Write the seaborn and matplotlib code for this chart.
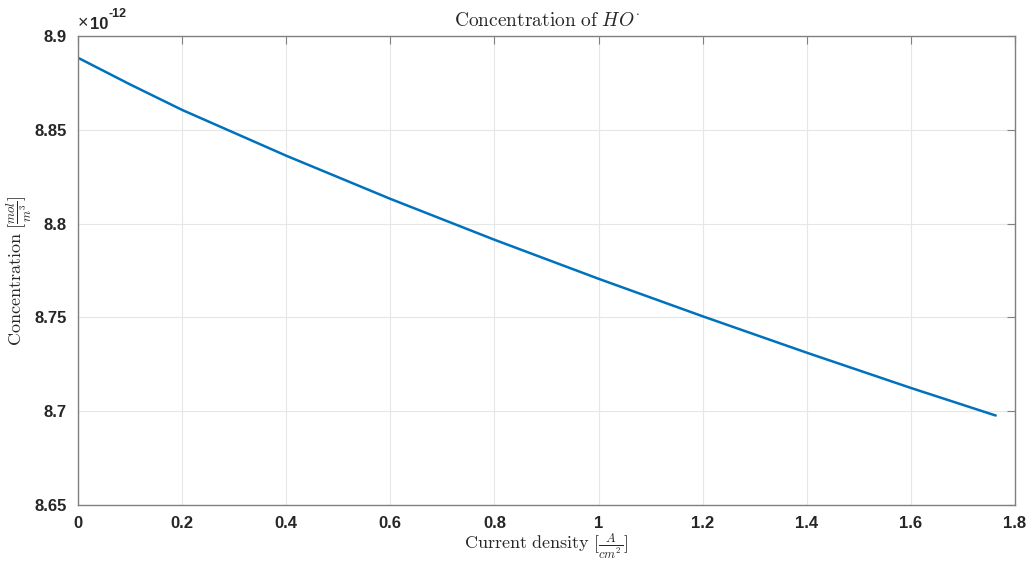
import pandas as pd
import matplotlib.pyplot as plt
import matplotlib.ticker as mticker
import seaborn as sns

# values (concentration in units of 1e-12 mol/m^3)
current_density = [0.0, 0.1, 0.2, 0.4, 0.6, 0.8, 1.0, 1.2, 1.4, 1.6, 1.763]
concentration = [8.8884, 8.8742, 8.8606, 8.8362, 8.8132, 8.7914, 8.7706,
                 8.7506, 8.7312, 8.7124, 8.6977]
y_ticks = [8.65, 8.7, 8.75, 8.8, 8.85, 8.9]
x_ticks = [0, 0.2, 0.4, 0.6, 0.8, 1, 1.2, 1.4, 1.6, 1.8]

df = pd.DataFrame({"J": current_density, "C": concentration})

sns.set_theme(style="whitegrid")
plt.rcParams["font.family"] = ["Liberation Sans", "DejaVu Sans"]
plt.rcParams["mathtext.fontset"] = "cm"

fig = plt.figure(figsize=(10.32, 5.61), dpi=100)
ax = fig.add_axes([0.0756, 0.0998, 0.9079, 0.836])

sns.lineplot(data=df, x="J", y="C", color="#0072BD", linewidth=1.8, ax=ax)

ax.set_xlim(0, 1.8)
ax.set_ylim(8.65, 8.9)
ax.set_xticks(x_ticks)
ax.set_yticks(y_ticks)
ax.xaxis.set_major_formatter(mticker.FormatStrFormatter("%g"))
ax.yaxis.set_major_formatter(mticker.FormatStrFormatter("%g"))

ax.set_facecolor("white")
ax.grid(True, color="#e6e6e6", linewidth=0.8)
for s in ax.spines.values():
    s.set_color("#808080")
    s.set_linewidth(1.0)
ax.tick_params(direction="in", length=6, width=0.8, color="#808080",
               top=True, right=True, labelsize=12, pad=8)
ax.tick_params(axis="both", labelcolor="#262626")
for lab in ax.get_xticklabels() + ax.get_yticklabels():
    lab.set_fontweight("bold")

# MATLAB style exponent label above the y axis
ax.text(0.0, 1.008, "\u00d7", transform=ax.transAxes, fontsize=13,
        color="#262626", ha="left", va="bottom")
ax.text(0.013, 1.008, "10", transform=ax.transAxes, fontsize=12,
        fontweight="bold", color="#262626", ha="left", va="bottom")
ax.text(0.033, 1.035, "-12", transform=ax.transAxes, fontsize=9,
        fontweight="bold", color="#262626", ha="left", va="bottom")

ax.set_title(r"$\mathrm{Concentration\ of\ }HO^{\cdot}$", fontsize=14,
             color="#262626", pad=7)
ax.set_xlabel(r"$\mathrm{Current\ density}\ [\frac{A}{cm^2}]$", fontsize=13,
              color="#262626")
ax.xaxis.set_label_coords(0.5, -0.056)
ax.set_ylabel(r"$\mathrm{Concentration}\ [\frac{mol}{m^3}]$", fontsize=13,
              color="#262626")
ax.yaxis.set_label_coords(-0.047, 0.5)

fig.savefig("out.png", dpi=100, facecolor="white")
